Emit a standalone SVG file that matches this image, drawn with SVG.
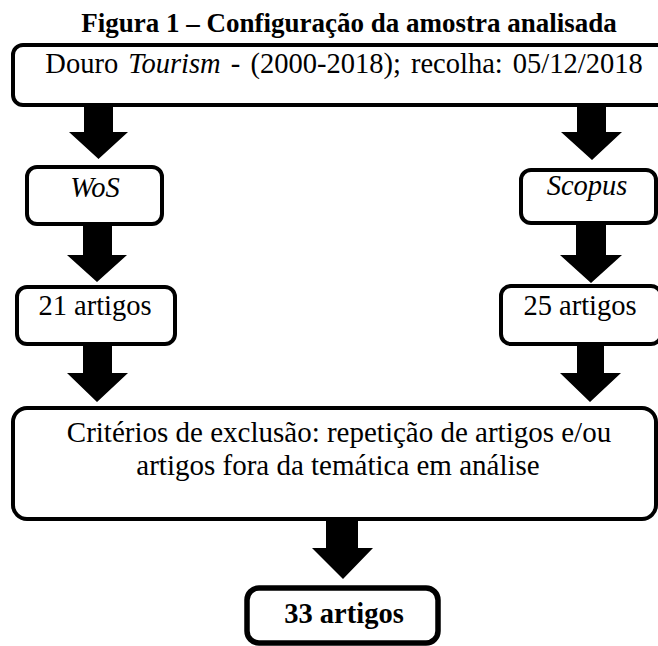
<svg xmlns="http://www.w3.org/2000/svg" width="658" height="646" viewBox="0 0 658 646">
<style>
  .box { fill: #ffffff; stroke: #000000; stroke-width: 4; }
  .boxb { fill: #ffffff; stroke: #000000; stroke-width: 5.5; }
  .txt { font-family: "Liberation Serif", "Times New Roman", serif; font-size: 28.5px; fill: #000000; }
  .it { font-style: italic; }
  .bold { font-weight: bold; }
  .arrow { fill: #000000; stroke: none; }
</style>
<rect width="658" height="646" fill="#ffffff"/>

<g id="title">
  <text class="txt bold" x="349" y="32" text-anchor="middle" style="font-size:27px">Figura 1 – Configuração da amostra analisada</text>
</g>

<g id="connectors">
  <polygon class="arrow" points="84,105 113,105 113,132 128,132 98.5,159 69,132 84,132"/>
  <polygon class="arrow" points="577,105 606,105 606,132 622,132 592,160 561,132 577,132"/>
  <polygon class="arrow" points="83,224 112,224 112,255 127,255 97,282 67,255 83,255"/>
  <polygon class="arrow" points="576,223 606,223 606,255 622,255 591,283 560,255 576,255"/>
  <polygon class="arrow" points="83,344 112,344 112,373 128,373 97,402 67,373 83,373"/>
  <polygon class="arrow" points="577,344 604,344 604,373 621,373 590,402 560,373 577,373"/>
  <polygon class="arrow" points="326,519 358,519 358,548 373,548 343,579 312,548 326,548"/>
</g>

<g id="node-source">
  <rect class="box" x="13" y="45" width="665" height="60" rx="10"/>
  <text class="txt" x="344" y="73" text-anchor="middle" word-spacing="3">Douro <tspan class="it">Tourism</tspan> - (2000-2018); recolha:  05/12/2018</text>
</g>

<g id="node-wos">
  <rect class="box" x="27" y="167" width="135" height="57" rx="10"/>
  <text class="txt it" x="95" y="197" text-anchor="middle">WoS</text>
</g>

<g id="node-scopus">
  <rect class="box" x="521" y="170" width="135" height="53" rx="10"/>
  <text class="txt it" x="587" y="195" text-anchor="middle">Scopus</text>
</g>

<g id="node-wos-count">
  <rect class="box" x="17" y="287" width="158" height="57" rx="10"/>
  <text class="txt" x="95" y="315" text-anchor="middle">21 artigos</text>
</g>

<g id="node-scopus-count">
  <rect class="box" x="501" y="286" width="160" height="58" rx="10"/>
  <text class="txt" x="580" y="315" text-anchor="middle">25 artigos</text>
</g>

<g id="node-criteria">
  <rect class="box" x="13" y="408" width="643" height="111" rx="14"/>
  <text class="txt" x="339" y="442" text-anchor="middle" style="font-size:29px">Critérios de exclusão: repetição de artigos e/ou</text>
  <text class="txt" x="338" y="475" text-anchor="middle" style="font-size:29px">artigos fora da temática em análise</text>
</g>

<g id="node-result">
  <rect class="boxb" x="247" y="588" width="191" height="55" rx="12"/>
  <text class="txt bold" x="344" y="623" text-anchor="middle">33 artigos</text>
</g>
</svg>
